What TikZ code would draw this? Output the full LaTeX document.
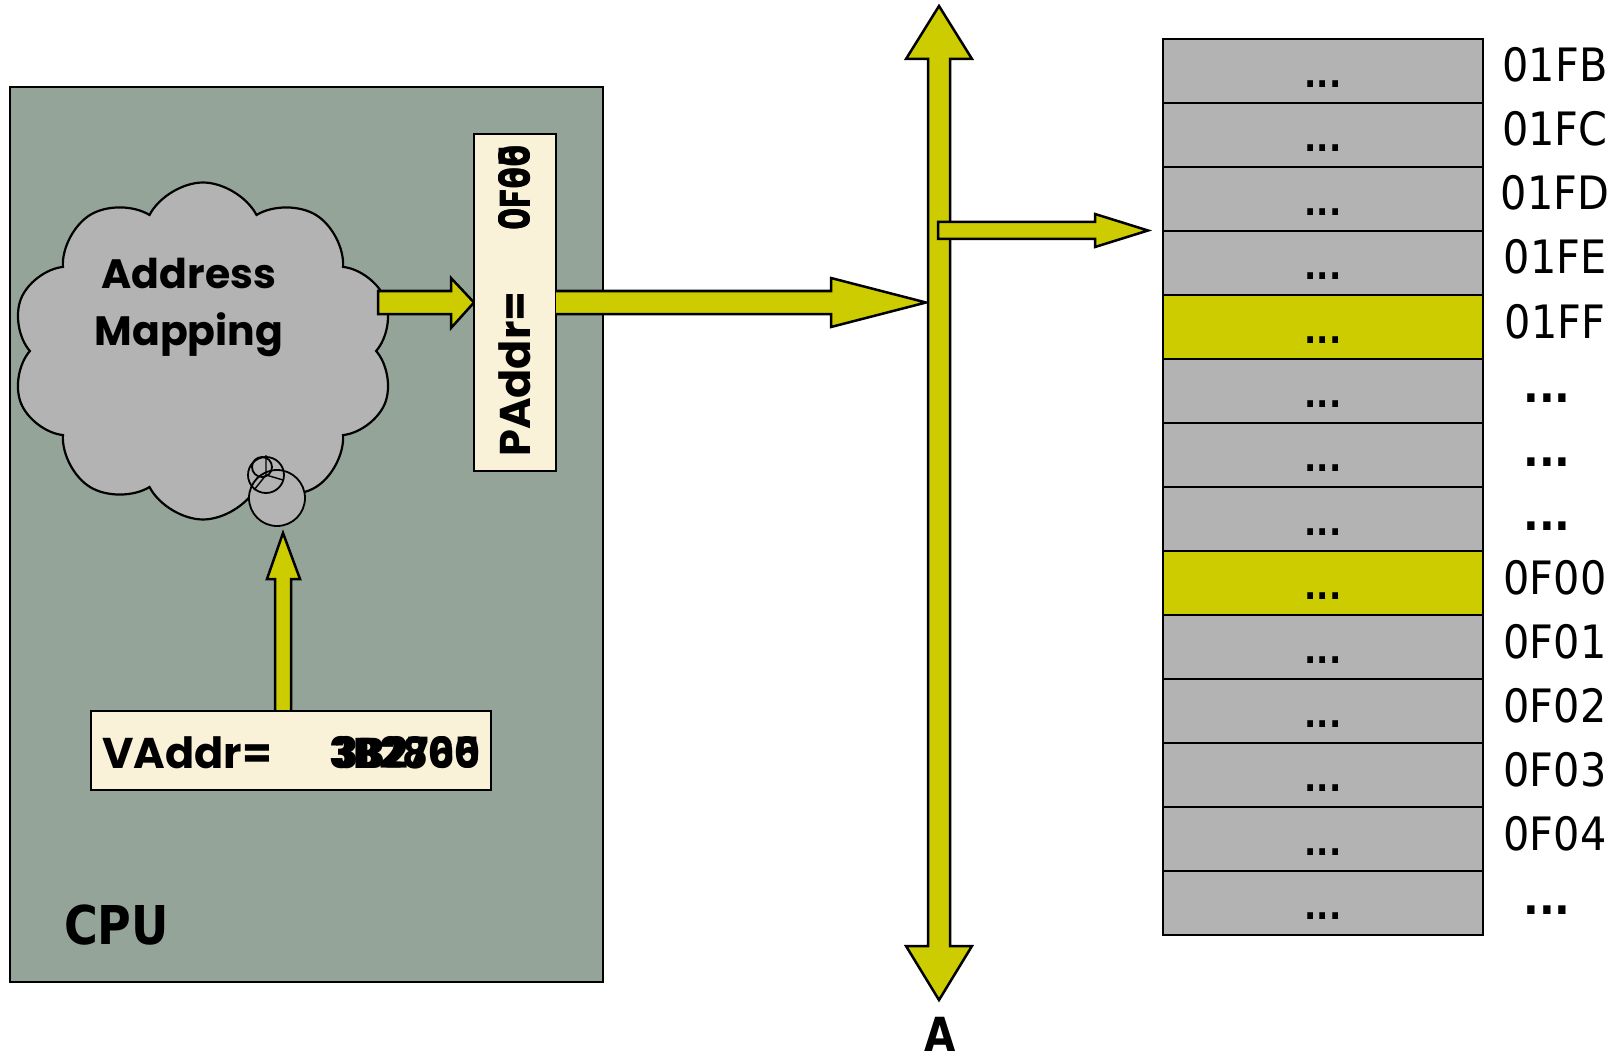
\documentclass[tikz,border=0pt]{standalone}
\usepackage{fontspec}
\usetikzlibrary{shapes.symbols,calc}
\newfontfamily\memfont[FakeStretch=0.9]{DejaVu Sans}
\newfontfamily\boldfont[FakeStretch=0.86]{DejaVu Sans}
\newfontfamily\geofont{Poppins}
\definecolor{cpufill}{RGB}{148,164,153}
\definecolor{cream}{RGB}{249,241,216}
\definecolor{busyel}{RGB}{204,204,0}
\definecolor{cellgray}{RGB}{179,179,179}
\newcommand\mydots{...}
\newcommand\rdots{{\bfseries ...}\hspace*{16pt}}
\begin{document}
\begin{tikzpicture}[x=1pt,y=-1pt,
  boxline/.style={draw=black,line width=2.5pt},
  barrow/.style={fill=busyel,draw=black,line width=2.5pt,line join=miter},
  cell/.style={draw=black,line width=2.4pt,minimum width=320pt,minimum height=64pt,inner sep=0pt},
  celldots/.style={inner sep=0pt,font=\memfont\bfseries\fontsize{36}{36}\selectfont},
  addrlab/.style={anchor=base,inner sep=0pt,font=\memfont\fontsize{46}{46}\selectfont},
  geotext/.style={inner sep=0pt,font=\geofont\bfseries\fontsize{43}{43}\selectfont},
  cloudtext/.style={anchor=base,inner sep=0pt,font=\geofont\bfseries\fontsize{41}{41}\selectfont}]
\useasboundingbox[fill=white] (0,0) rectangle (1619,1059);

% CPU
\node[boxline,fill=cpufill,minimum width=593pt,minimum height=895pt,inner sep=0pt] (cpu) at (306.5,534.5) {};
\node[anchor=base west,inner sep=0pt,font=\boldfont\bfseries\fontsize{53.5}{53.5}\selectfont] (cpulab) at (64,944) {CPU};

% cloud
\node[cloud,cloud puffs=10,cloud puff arc=125,aspect=1.14,draw=black,line width=2.2pt,fill=cellgray,
      minimum width=383pt,minimum height=337pt] (cloud) at (203,351) {};
\node[cloudtext] (addr) at (189,288) {Address};
\node[cloudtext] (mapp) at (189,345) {Mapping};
\fill[cellgray] (277,498) circle[radius=28];
\fill[cellgray] (266,475) circle[radius=18];
\draw[line width=1.8pt] (277,498) circle[radius=28];
\draw[line width=1.8pt] (266,475) circle[radius=18];
\draw[line width=1.8pt] (262,467) circle[radius=10];
\draw[line width=1.4pt] (266,475) -- (266,455) (266,475) -- (254,490) (266,475) -- (283,480);

% arrow cloud -> PAddr
\draw[barrow] (378,291) -- (451,291) -- (451,278) -- (474,302.5) -- (451,328) -- (451,314) -- (378,314) -- cycle;

% PAddr box
\node[boxline,fill=cream,minimum width=82pt,minimum height=337pt,inner sep=0pt] (paddr) at (515,302.5) {};
\node[geotext,rotate=90,anchor=base west] (plab) at (530,457) {PAddr=};
\node[geotext,rotate=90,anchor=base west] (pval1) at (530,231) {\scalebox{0.8}[1]{0F00}};
\node[geotext,rotate=90,anchor=base west] (pval2) at (530,231) {\scalebox{0.8}[1]{0F65}};

% VAddr box and up arrow
\draw[barrow] (275,711) -- (275,579) -- (267,579) -- (283,533) -- (300,579) -- (291,579) -- (291,711);
\node[boxline,fill=cream,minimum width=400pt,minimum height=79pt,inner sep=0pt] (vaddr) at (291,750.5) {};
\node[geotext,anchor=base west] (vlab) at (102,768) {VAddr=};
\node[geotext,anchor=base east] (vval1) at (481,768) {\scalebox{0.93}[1]{3B2800}};
\node[geotext,anchor=base east] (vval2) at (481,768) {\scalebox{0.93}[1]{3B2765}};

% main arrow PAddr -> bus
\draw[barrow] (556,291) -- (831,291) -- (831,278) -- (926,302.5) -- (831,327) -- (831,314) -- (556,314);

% bus
\draw[barrow] (928,946) -- (928,59) -- (906,59) -- (939,6) -- (972,59) -- (950,59) -- (950,946)
  -- (972,946) -- (939,1000) -- (906,946) -- cycle;
\node[anchor=base,inner sep=0pt,font=\boldfont\bfseries\fontsize{47}{47}\selectfont] (alab) at (940,1051) {A};
% branch to memory
\draw[barrow] (938,222) -- (1095,222) -- (1095,214) -- (1148,230.5) -- (1095,247) -- (1095,239) -- (938,239) -- cycle;

% memory
\foreach \i/\lab/\col in {0/01FB/cellgray,1/01FC/cellgray,2/01FD/cellgray,3/01FE/cellgray,4/01FF/busyel,
  5/\rdots/cellgray,6/\rdots/cellgray,7/\rdots/cellgray,8/0F00/busyel,9/0F01/cellgray,10/0F02/cellgray,
  11/0F03/cellgray,12/0F04/cellgray,13/\rdots/cellgray}{
  \node[cell,fill=\col] (m\i) at (1323,{39+64*\i+32}) {};
  \node[celldots] (d\i) at (1323,{39+64*\i+45}) {\mydots};
  \node[addrlab] (l\i) at (1555,{39+64*\i+43}) {\lab};
}
\end{tikzpicture}
\end{document}
